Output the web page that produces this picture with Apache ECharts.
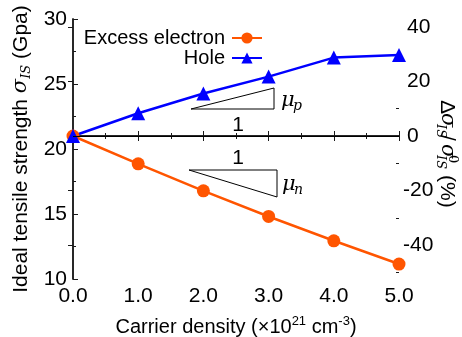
<!DOCTYPE html>
<html>
<head>
<meta charset="utf-8">
<script src="https://cdn.jsdelivr.net/npm/echarts@6/dist/echarts.min.js"></script>
<style>
  html, body { margin: 0; padding: 0; background: #fff; }
  #chart { width: 462px; height: 337px; }
</style>
</head>
<body>
<div id="chart"></div>
<script>
// Carrier density in units of 1e21 cm^-3
const carrierDensity = [0, 1, 2, 3, 4, 5];
// Ideal tensile strength (GPa)
const electronStrength = [21.0, 18.86, 16.78, 14.81, 12.94, 11.15];
const holeStrength = [21.0, 22.75, 24.27, 25.57, 27.03, 27.23];
// Reference strength (no extra carriers) used for the relative-change axis
const sigma0 = 21.0;
const strengthRange = [10, 30];
const xTickLabels = ['0.0', '1.0', '2.0', '3.0', '4.0', '5.0'];
const relTicks = [-40, -20, 0, 20, 40];
const relMinorTicks = [-50, -30, -10, 10, 30];

const SANS = '"Liberation Sans", Arial, Helvetica, sans-serif';
const SERIF = '"DejaVu Serif", "Liberation Serif", serif';
const INK = '#000';
const ORANGE = '#ff5500';
const BLUE = '#0000ff';

const relMin = (strengthRange[0] - sigma0) / sigma0 * 100;
const relMax = (strengthRange[1] - sigma0) / sigma0 * 100;

const frameLine = { color: '#1a1a1a', width: 1.5 };
const tickStyle = { color: '#1a1a1a', width: 1 };
const tickFont = { fontFamily: SANS, fontSize: 21, color: INK };

const toPairs = (ys) => carrierDensity.map((x, i) => [x, ys[i]]);

const chart = echarts.init(document.getElementById('chart'), null, { renderer: 'canvas' });

// Pieces of the rotated right-hand axis title, laid out along the text direction
function relTitle() {
  const main = { fontFamily: SANS, fontSize: 21, fill: INK, verticalAlign: 'middle', align: 'left' };
  const sig = { fontFamily: SERIF, fontStyle: 'italic', fontSize: 21, fill: INK, verticalAlign: 'middle', align: 'left' };
  const small = { fontFamily: SERIF, fontStyle: 'italic', fontSize: 13, fill: INK, verticalAlign: 'middle', align: 'left' };
  const t = (x, y, text, st) => ({ type: 'text', x: x, y: y, style: Object.assign({ text: text }, st) });
  return {
    type: 'group',
    x: 447, y: 100,
    rotation: -Math.PI / 2,
    children: [
      t(0, 0, 'Δ', main),
      t(13, 0, 'σ', sig),
      t(24, 6.5, 'IS', small),
      t(35, 0, '/', main),
      t(44, 0, 'σ', sig),
      t(55, -5, '0', Object.assign({}, small, { fontStyle: 'normal' })),
      t(55, 6.5, 'IS', small),
      t(75, 0, '(%)', main)
    ]
  };
}

function slopeMark(points, oneX, oneY, labelX, labelY, sub) {
  return [
    {
      type: 'polygon',
      shape: { points: points },
      style: { fill: 'none', stroke: INK, lineWidth: 1 }
    },
    {
      type: 'text', x: oneX, y: oneY,
      style: { text: '1', fontFamily: SANS, fontSize: 21, fill: INK, align: 'center', verticalAlign: 'middle' }
    },
    {
      type: 'text', x: labelX, y: labelY,
      style: { text: 'μ', fontFamily: SERIF, fontStyle: 'italic', fontSize: 21, fill: INK, align: 'left', verticalAlign: 'middle' }
    },
    {
      type: 'text', x: labelX + 12, y: labelY + 5,
      style: { text: sub, fontFamily: SERIF, fontStyle: 'italic', fontSize: 14, fill: INK, align: 'left', verticalAlign: 'middle' }
    }
  ];
}

const option = {
  animation: false,
  backgroundColor: '#fff',
  grid: { left: 73, right: 63, top: 19, bottom: 58, outerBoundsMode: 'none', containLabel: false },
  legend: [
    {
      data: ['Excess electron'], right: 199, top: 28, align: 'right', padding: 0,
      itemWidth: 30, itemHeight: 14, selectedMode: false,
      textStyle: { fontFamily: SANS, fontSize: 20, color: INK, padding: [0, 2, 0, 0] }
    },
    {
      data: ['Hole'], right: 199, top: 48, align: 'right', padding: 0,
      itemWidth: 30, itemHeight: 14, selectedMode: false,
      textStyle: { fontFamily: SANS, fontSize: 20, color: INK, padding: [0, 2, 0, 0] }
    }
  ],
  xAxis: [
    {
      type: 'value', position: 'bottom', min: 0, max: 5, interval: 1,
      axisLine: { show: true, lineStyle: frameLine },
      axisTick: { show: true, inside: true, length: 5, lineStyle: tickStyle },
      minorTick: { show: true, splitNumber: 2, length: 3, lineStyle: tickStyle },
      splitLine: { show: false },
      axisLabel: Object.assign({ margin: 7, showMinLabel: true, showMaxLabel: true,
        formatter: (v) => xTickLabels[Math.round(v)] }, tickFont),
      name: '{a|Carrier density (×10}{sup|21}{a| cm}{sup|-3}{a|)}',
      nameLocation: 'middle', nameGap: 36,
      nameTextStyle: {
        fontFamily: SANS, fontSize: 20, color: INK,
        rich: {
          a: { fontFamily: SANS, fontSize: 20, color: INK, lineHeight: 24 },
          sup: { fontFamily: SANS, fontSize: 13, color: INK, lineHeight: 12, verticalAlign: 'top' }
        }
      }
    },
    {
      type: 'value', position: 'top', min: 0, max: 5, interval: 1,
      axisLine: { show: true, lineStyle: frameLine },
      axisTick: { show: true, inside: true, length: 5, lineStyle: tickStyle },
      minorTick: { show: true, splitNumber: 2, length: 3, lineStyle: tickStyle },
      splitLine: { show: false },
      axisLabel: { show: false }
    }
  ],
  yAxis: [
    {
      type: 'value', position: 'left', min: strengthRange[0], max: strengthRange[1], interval: 5,
      axisLine: { show: true, lineStyle: frameLine },
      axisTick: { show: true, inside: true, length: 5, lineStyle: tickStyle },
      minorTick: { show: true, splitNumber: 2, length: 3, lineStyle: tickStyle },
      splitLine: { show: false },
      axisLabel: Object.assign({ margin: 6, showMinLabel: true, showMaxLabel: true }, tickFont),
      name: '{a|Ideal tensile strength }{s|σ}{sub|IS}{a| (Gpa)}',
      nameLocation: 'middle', nameRotate: 90, nameGap: 37,
      nameTextStyle: {
        fontFamily: SANS, fontSize: 21, color: INK,
        rich: {
          a: { fontFamily: SANS, fontSize: 21, color: INK, lineHeight: 24 },
          s: { fontFamily: SERIF, fontStyle: 'italic', fontSize: 21, color: INK, lineHeight: 24 },
          sub: { fontFamily: SERIF, fontStyle: 'italic', fontSize: 13, color: INK, lineHeight: 12, verticalAlign: 'bottom' }
        }
      }
    },
    {
      type: 'value', position: 'right', min: relMin, max: relMax,
      axisLine: { show: true, lineStyle: frameLine },
      axisTick: { show: true, inside: true, length: 5, lineStyle: tickStyle, customValues: relTicks },
      splitLine: { show: false },
      axisLabel: Object.assign({
        margin: 4, customValues: relTicks,
        formatter: (v) => (v < 0 ? '{n|' + v + '}' : '{p|' + v + '}'),
        rich: {
          n: { fontFamily: SANS, fontSize: 21, color: INK },
          p: { fontFamily: SANS, fontSize: 21, color: INK, padding: [0, 0, 0, 4] }
        }
      }, tickFont)
    },
    {
      type: 'value', position: 'right', min: relMin, max: relMax,
      axisLine: { show: false },
      axisTick: { show: true, inside: true, length: 3, lineStyle: tickStyle, customValues: relMinorTicks },
      splitLine: { show: false },
      axisLabel: { show: false }
    }
  ],
  series: [
    {
      name: 'Excess electron', type: 'line', xAxisIndex: 0, yAxisIndex: 0,
      data: toPairs(electronStrength),
      symbol: 'circle', symbolSize: 13,
      lineStyle: { color: ORANGE, width: 2.5 },
      itemStyle: { color: ORANGE },
      emphasis: { disabled: true }
    },
    {
      name: 'Hole', type: 'line', xAxisIndex: 0, yAxisIndex: 0,
      data: toPairs(holeStrength),
      symbol: 'triangle', symbolSize: 14,
      lineStyle: { color: BLUE, width: 2.5 },
      itemStyle: { color: BLUE },
      emphasis: { disabled: true },
      markLine: {
        silent: true, symbol: ['none', 'none'], animation: false,
        label: { show: false },
        lineStyle: { color: INK, width: 1, type: 'solid' },
        emphasis: { disabled: true },
        data: [{ yAxis: sigma0 }]
      }
    }
  ],
  graphic: [relTitle()]
    .concat(slopeMark([[191, 109], [274, 109], [274, 88]], 238, 125, 281, 101, 'p'))
    .concat(slopeMark([[189, 170], [277, 170], [277, 197]], 238, 158, 282, 185, 'n'))
};

chart.setOption(option);
</script>
</body>
</html>
